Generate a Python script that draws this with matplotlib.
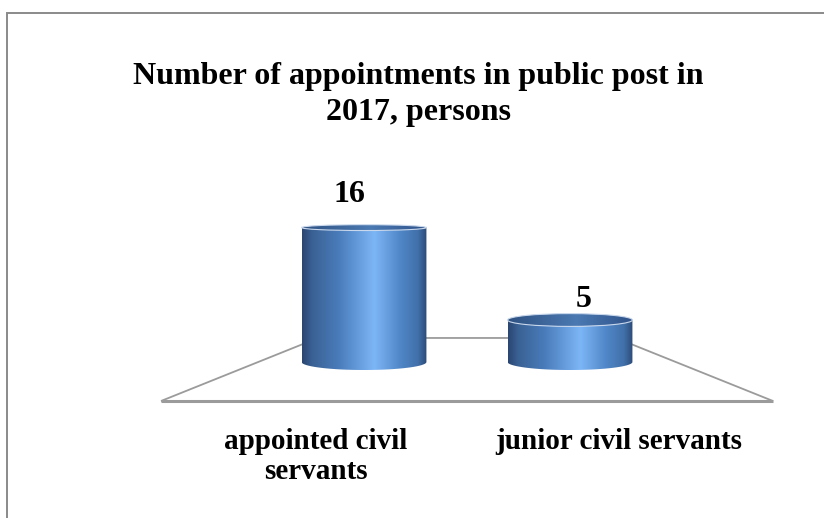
import matplotlib
matplotlib.use("Agg")
import matplotlib.pyplot as plt
import numpy as np
from matplotlib.colors import LinearSegmentedColormap
from matplotlib.patches import Ellipse, PathPatch, Polygon, Rectangle
from matplotlib.path import Path

categories = ["appointed civil\nservants", "junior civil servants"]
values = [16, 5]
title = "Number of appointments in public post in\n2017, persons"

W, H = 824, 518
fig = plt.figure(figsize=(W / 100, H / 100), dpi=100)
fig.patch.set_facecolor("white")

# outer frame (runs off the right and bottom edges)
fig.add_artist(Rectangle((6.5 / W, -0.1), 1.2, (H - 13.5) / H + 0.1,
                         transform=fig.transFigure, fill=False,
                         edgecolor="#8a8a8a", lw=1.4))

ax = fig.add_axes([158 / W, (H - 404) / H, 618 / W, 210 / H])
ax.set_xlim(-1.0, 2.0)
ax.set_ylim(-5, 20)
ax.axis("off")

font = ["Liberation Serif", "DejaVu Serif"]

# floor (perspective trapezoid)
mid = (len(values) - 1) / 2
floor = Polygon([(mid - 1.485, -4.64), (mid + 1.485, -4.64),
                 (mid + 0.723, 2.86), (mid - 0.723, 2.86)],
                closed=True, fill=False, edgecolor="#9b9b9b", lw=1.3,
                zorder=1)
ax.add_patch(floor)
ax.plot([mid - 1.485, mid + 1.485], [-4.64, -4.64], color="#9b9b9b",
        lw=2.2, zorder=1, solid_capstyle="butt")

body_cmap = LinearSegmentedColormap.from_list("body", [
    (0.0, "#2a4670"), (0.08, "#3a6194"), (0.3, "#4a7dbc"),
    (0.58, "#7db6f6"), (0.78, "#5188c9"), (0.93, "#4170aa"),
    (1.0, "#2c4b78")])
top_cmap = LinearSegmentedColormap.from_list("top", [
    (0.0, "#2f5282"), (0.55, "#4b79b2"), (1.0, "#30538a")])

half_w = 0.303
px_per_unit = 8.4
eye = 25.2
label_dx = [-0.07, 0.065]
label_dy = [2.2, 0.7]

for i, v in enumerate(values):
    ry_b = 8 / px_per_unit
    ry_t = ry_b * (1 - v / eye)
    x0, x1 = i - half_w, i + half_w
    t = np.linspace(np.pi, 2 * np.pi, 60)
    verts = [(x0, v), (x0, 0)]
    verts += list(zip(i + half_w * np.cos(t), ry_b * np.sin(t)))
    verts += [(x1, v), (x0, v)]
    body = PathPatch(Path(verts, closed=True), facecolor="none",
                     edgecolor="none", zorder=3)
    ax.add_patch(body)
    grad = np.linspace(0, 1, 256).reshape(1, -1)
    im = ax.imshow(grad, extent=(x0, x1, -ry_b, v), aspect="auto",
                   cmap=body_cmap, zorder=3, origin="lower")
    im.set_clip_path(body)

    top = Ellipse((i, v), 2 * half_w, 2 * ry_t, facecolor="none",
                  edgecolor="#c9d8ec", lw=0.8, zorder=5)
    ax.add_patch(top)
    im2 = ax.imshow(grad, extent=(x0, x1, v - ry_t, v + ry_t),
                    aspect="auto", cmap=top_cmap, zorder=4, origin="lower")
    im2.set_clip_path(top)

    ax.text(i + label_dx[i], v + label_dy[i], str(v), ha="center",
            va="bottom", fontsize=23, fontweight="bold", family=font,
            zorder=6)

for i, c in enumerate(categories):
    ax.text(mid + (i - mid) * 1.47, -7.8, c, ha="center", va="top",
            fontsize=21, fontweight="bold", family=font,
            linespacing=1.18, multialignment="center")

fig.text(418 / W, 1 - 62 / H, title, ha="center", va="top",
         fontsize=23, fontweight="bold", family=font, linespacing=1.3)

fig.savefig("out.png", dpi=100)
